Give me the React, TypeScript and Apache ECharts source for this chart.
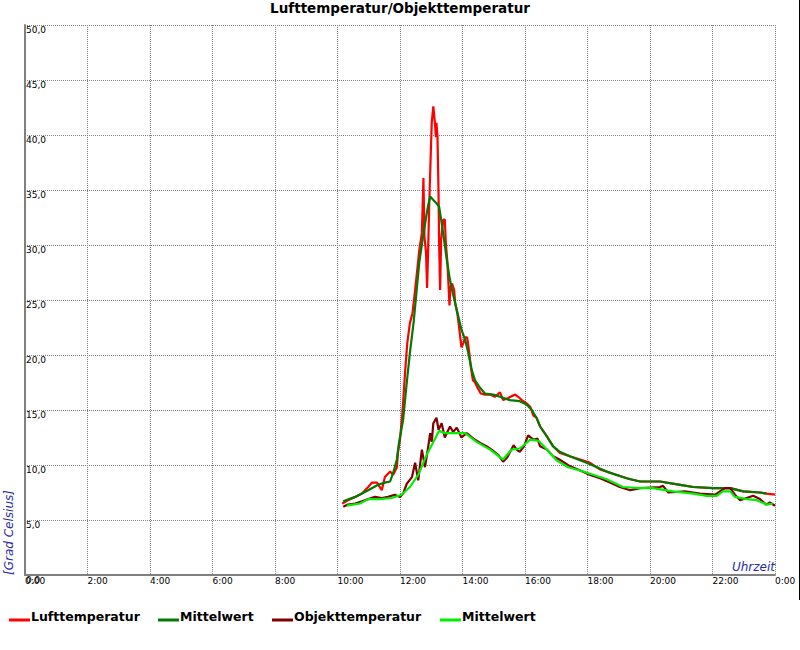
import React, { useEffect, useRef } from "react";
import * as echarts from "echarts";

// time in minutes since midnight, value in °C
const luftTemp: [number, number][] = [
  [609, 6.5], [620, 6.8], [634, 7.1], [647, 7.4], [659, 8.0], [666, 8.4], [676, 8.4], [685, 7.7],
  [691, 8.9], [701, 9.4], [707, 9.1], [714, 9.8], [716, 11.1], [720, 12.3], [725, 15.0], [730, 18.6],
  [734, 21.1], [739, 22.9], [744, 23.8], [749, 25.9], [753, 27.7], [757, 29.5], [762, 31.1], [765, 36.1],
  [767, 30.7], [770, 29.3], [772, 26.1], [774, 29.5], [776, 33.5], [779, 38.2], [781, 41.2], [784, 42.6],
  [787, 41.1], [789, 39.8], [790, 41.1], [792, 39.8], [794, 34.7], [795, 30.5], [797, 25.9], [799, 30.5],
  [801, 31.4], [803, 32.3], [806, 32.3], [808, 30.2], [811, 28.4], [813, 26.5], [815, 24.5], [817, 26.2],
  [820, 26.5], [824, 25.9], [826, 24.7], [830, 23.8], [834, 22.3], [838, 20.7], [842, 21.1], [845, 21.6],
  [849, 21.6], [853, 20.2], [856, 18.9], [860, 17.7], [864, 17.5], [868, 17.1], [875, 16.5], [883, 16.4],
  [893, 16.4], [902, 16.2], [912, 16.6], [918, 15.9], [928, 16.1], [941, 16.4], [947, 16.2], [954, 15.9],
  [963, 15.6], [970, 15.3], [976, 14.5], [982, 14.3], [989, 13.5], [1002, 12.6], [1014, 11.7], [1027, 11.1],
  [1046, 10.8], [1066, 10.5], [1085, 10.2], [1104, 9.6], [1123, 9.3], [1142, 9.0], [1162, 8.7], [1181, 8.5],
  [1200, 8.5], [1219, 8.5], [1258, 8.2], [1283, 8.0], [1321, 7.9], [1354, 7.9], [1379, 7.6], [1411, 7.5],
  [1424, 7.4], [1440, 7.3],
];

const luftMean: [number, number][] = [
  [611, 6.7], [634, 7.1], [659, 7.7], [678, 8.2], [691, 8.4], [701, 8.5], [707, 9.3], [714, 10.5],
  [718, 12.0], [726, 14.1], [733, 17.5], [739, 20.2], [746, 22.9], [752, 25.9], [757, 28.4], [764, 30.7],
  [770, 32.5], [774, 33.6], [778, 34.4], [784, 34.1], [790, 33.8], [795, 33.5], [800, 32.0], [804, 30.7],
  [810, 28.6], [815, 27.1], [820, 25.9], [826, 24.7], [832, 23.5], [838, 22.3], [845, 21.4], [851, 20.2],
  [858, 18.6], [864, 17.7], [874, 17.0], [883, 16.5], [899, 16.4], [912, 16.2], [931, 15.9], [950, 15.8],
  [963, 15.5], [973, 15.0], [982, 14.3], [989, 13.5], [1002, 12.6], [1014, 11.7], [1027, 11.2], [1046, 10.8],
  [1078, 10.2], [1117, 9.4], [1155, 8.8], [1181, 8.5], [1219, 8.5], [1258, 8.2], [1283, 8.0], [1321, 7.9],
  [1354, 7.9], [1379, 7.6], [1411, 7.5], [1424, 7.4],
];

const objTemp: [number, number][] = [
  [611, 6.2], [620, 6.4], [634, 6.5], [647, 6.7], [659, 6.9], [672, 7.1], [685, 7.0], [697, 7.1],
  [710, 7.3], [720, 7.1], [726, 7.4], [733, 8.3], [743, 8.9], [749, 10.2], [755, 8.6], [758, 9.8],
  [762, 11.4], [768, 9.8], [774, 11.6], [778, 12.9], [781, 12.1], [784, 13.8], [790, 14.3], [794, 13.2],
  [800, 13.8], [806, 12.5], [816, 13.5], [822, 13.0], [829, 13.4], [838, 12.5], [848, 12.9], [861, 12.4],
  [874, 12.0], [886, 11.7], [896, 11.4], [909, 10.9], [918, 10.3], [926, 10.7], [938, 11.8], [944, 11.4],
  [950, 11.2], [958, 11.7], [966, 12.7], [976, 12.3], [984, 12.4], [989, 11.7], [1002, 11.4], [1014, 10.8],
  [1026, 10.5], [1046, 9.9], [1066, 9.5], [1085, 9.1], [1104, 8.8], [1123, 8.4], [1142, 8.0], [1162, 7.7],
  [1181, 7.9], [1219, 8.0], [1225, 8.1], [1235, 7.5], [1267, 7.6], [1296, 7.4], [1325, 7.3], [1344, 7.9],
  [1354, 7.9], [1363, 7.3], [1373, 6.8], [1398, 7.2], [1411, 6.9], [1423, 6.4], [1430, 6.6], [1440, 6.3],
];

const objMean: [number, number][] = [
  [618, 6.3], [643, 6.5], [659, 6.9], [682, 6.9], [704, 7.0], [723, 7.3], [739, 8.0], [755, 9.1],
  [771, 10.9], [784, 12.1], [795, 13.1], [806, 12.9], [826, 12.9], [845, 12.9], [867, 12.1], [893, 11.4],
  [918, 10.5], [934, 11.4], [950, 11.5], [970, 12.3], [986, 12.2], [1002, 11.4], [1021, 10.4], [1043, 9.8],
  [1066, 9.5], [1085, 9.2], [1117, 8.7], [1148, 8.0], [1181, 7.9], [1206, 7.9], [1232, 7.7], [1244, 7.6],
  [1283, 7.4], [1309, 7.2], [1328, 7.2], [1340, 7.6], [1354, 7.6], [1363, 7.1], [1386, 6.9], [1405, 6.8],
  [1424, 6.4], [1436, 6.5],
];

const xTickLabels = ["0:00", "2:00", "4:00", "6:00", "8:00", "10:00", "12:00", "14:00", "16:00", "18:00", "20:00", "22:00", "0:00"];
const seriesNames = ["Lufttemperatur", "Mittelwert", "Objekttemperatur", "Mittelwert"];
const seriesColors = ["#ff0000", "#007a00", "#800000", "#00ee00"];

const titleText = "Lufttemperatur/Objekttemperatur";
const yAxisName = "[Grad Celsius]";
const xAxisName = "Uhrzeit";

const legendX = [9, 158, 272, 440];
const FONT = "DejaVu Sans";

export default function App() {
  const ref = useRef<HTMLDivElement>(null);
  useEffect(() => {
    if (!ref.current) return;
    const chart = echarts.init(ref.current, null, { renderer: "svg" });
    const allData = [luftTemp, luftMean, objTemp, objMean];
    const legendGraphics: any[] = [];
    seriesNames.forEach((n, i) => {
      legendGraphics.push({
        type: "rect",
        shape: { x: legendX[i], y: 618.5, width: 21, height: 3 },
        style: { fill: seriesColors[i] },
      });
      legendGraphics.push({
        type: "text",
        x: legendX[i] + 22,
        y: 616,
        style: {
          text: n,
          fill: "#000",
          font: `bold 12.5px "${FONT}"`,
          align: "left",
          verticalAlign: "middle",
        },
      });
    });
    chart.setOption({
      animation: false,
      backgroundColor: "#fff",
      title: {
        text: titleText,
        left: "center",
        top: 1,
        padding: 0,
        textStyle: { fontFamily: FONT, fontSize: 13.5, fontWeight: "bold", color: "#000" },
      },
      grid: { left: 25, right: 25, top: 25, bottom: 75, outerBoundsMode: "none", containLabel: false },
      xAxis: {
        type: "value",
        min: 0,
        max: 1440,
        interval: 120,
        axisLine: { show: true, lineStyle: { color: "#808080", width: 2 } },
        axisTick: { show: false },
        axisLabel: {
          showMinLabel: true,
          showMaxLabel: true,
          align: "left",
          margin: 1,
          color: "#000",
          fontFamily: FONT,
          fontSize: 9,
          formatter: (v: number) => xTickLabels[Math.round(v / 120)],
        },
        splitLine: { show: true, lineStyle: { color: "#808080", type: "dotted", width: 1 } },
      },
      yAxis: {
        type: "value",
        min: 0,
        max: 50,
        interval: 5,
        axisLine: { show: true, onZero: false, lineStyle: { color: "#808080", width: 2 } },
        axisTick: { show: false },
        axisLabel: {
          inside: true,
          showMinLabel: true,
          showMaxLabel: true,
          margin: 1,
          align: "left",
          verticalAlign: "top",
          color: "#000",
          fontFamily: FONT,
          fontSize: 9,
          formatter: (v: number) => v.toFixed(1).replace(".", ","),
        },
        splitLine: { show: true, lineStyle: { color: "#808080", type: "dotted", width: 1 } },
      },
      series: allData.map((d, i) => ({
        name: seriesNames[i],
        type: "line",
        data: d,
        showSymbol: false,
        symbol: "none",
        lineStyle: { color: seriesColors[i], width: 2.2 },
        itemStyle: { color: seriesColors[i] },
        z: 2 + i,
      })),
      graphic: [
        {
          type: "text",
          x: 775,
          y: 567,
          style: {
            text: xAxisName,
            fill: "#2a2aa6",
            font: `italic 12px "${FONT}"`,
            align: "right",
            verticalAlign: "middle",
          },
        },
        {
          type: "text",
          x: 8.5,
          y: 575,
          rotation: Math.PI / 2,
          style: {
            text: yAxisName,
            fill: "#2a2aa6",
            font: `italic 12px "${FONT}"`,
            align: "left",
            verticalAlign: "middle",
          },
        },
        {
          type: "line",
          shape: { x1: 799.5, y1: 0, x2: 799.5, y2: 600 },
          style: { stroke: "#000", lineWidth: 1 },
        },
        ...legendGraphics,
      ],
    });
    return () => chart.dispose();
  }, []);
  return (
    <div
      ref={ref}
      style={{ position: "absolute", left: 0, top: 0, width: 800, height: 650 }}
    />
  );
}
